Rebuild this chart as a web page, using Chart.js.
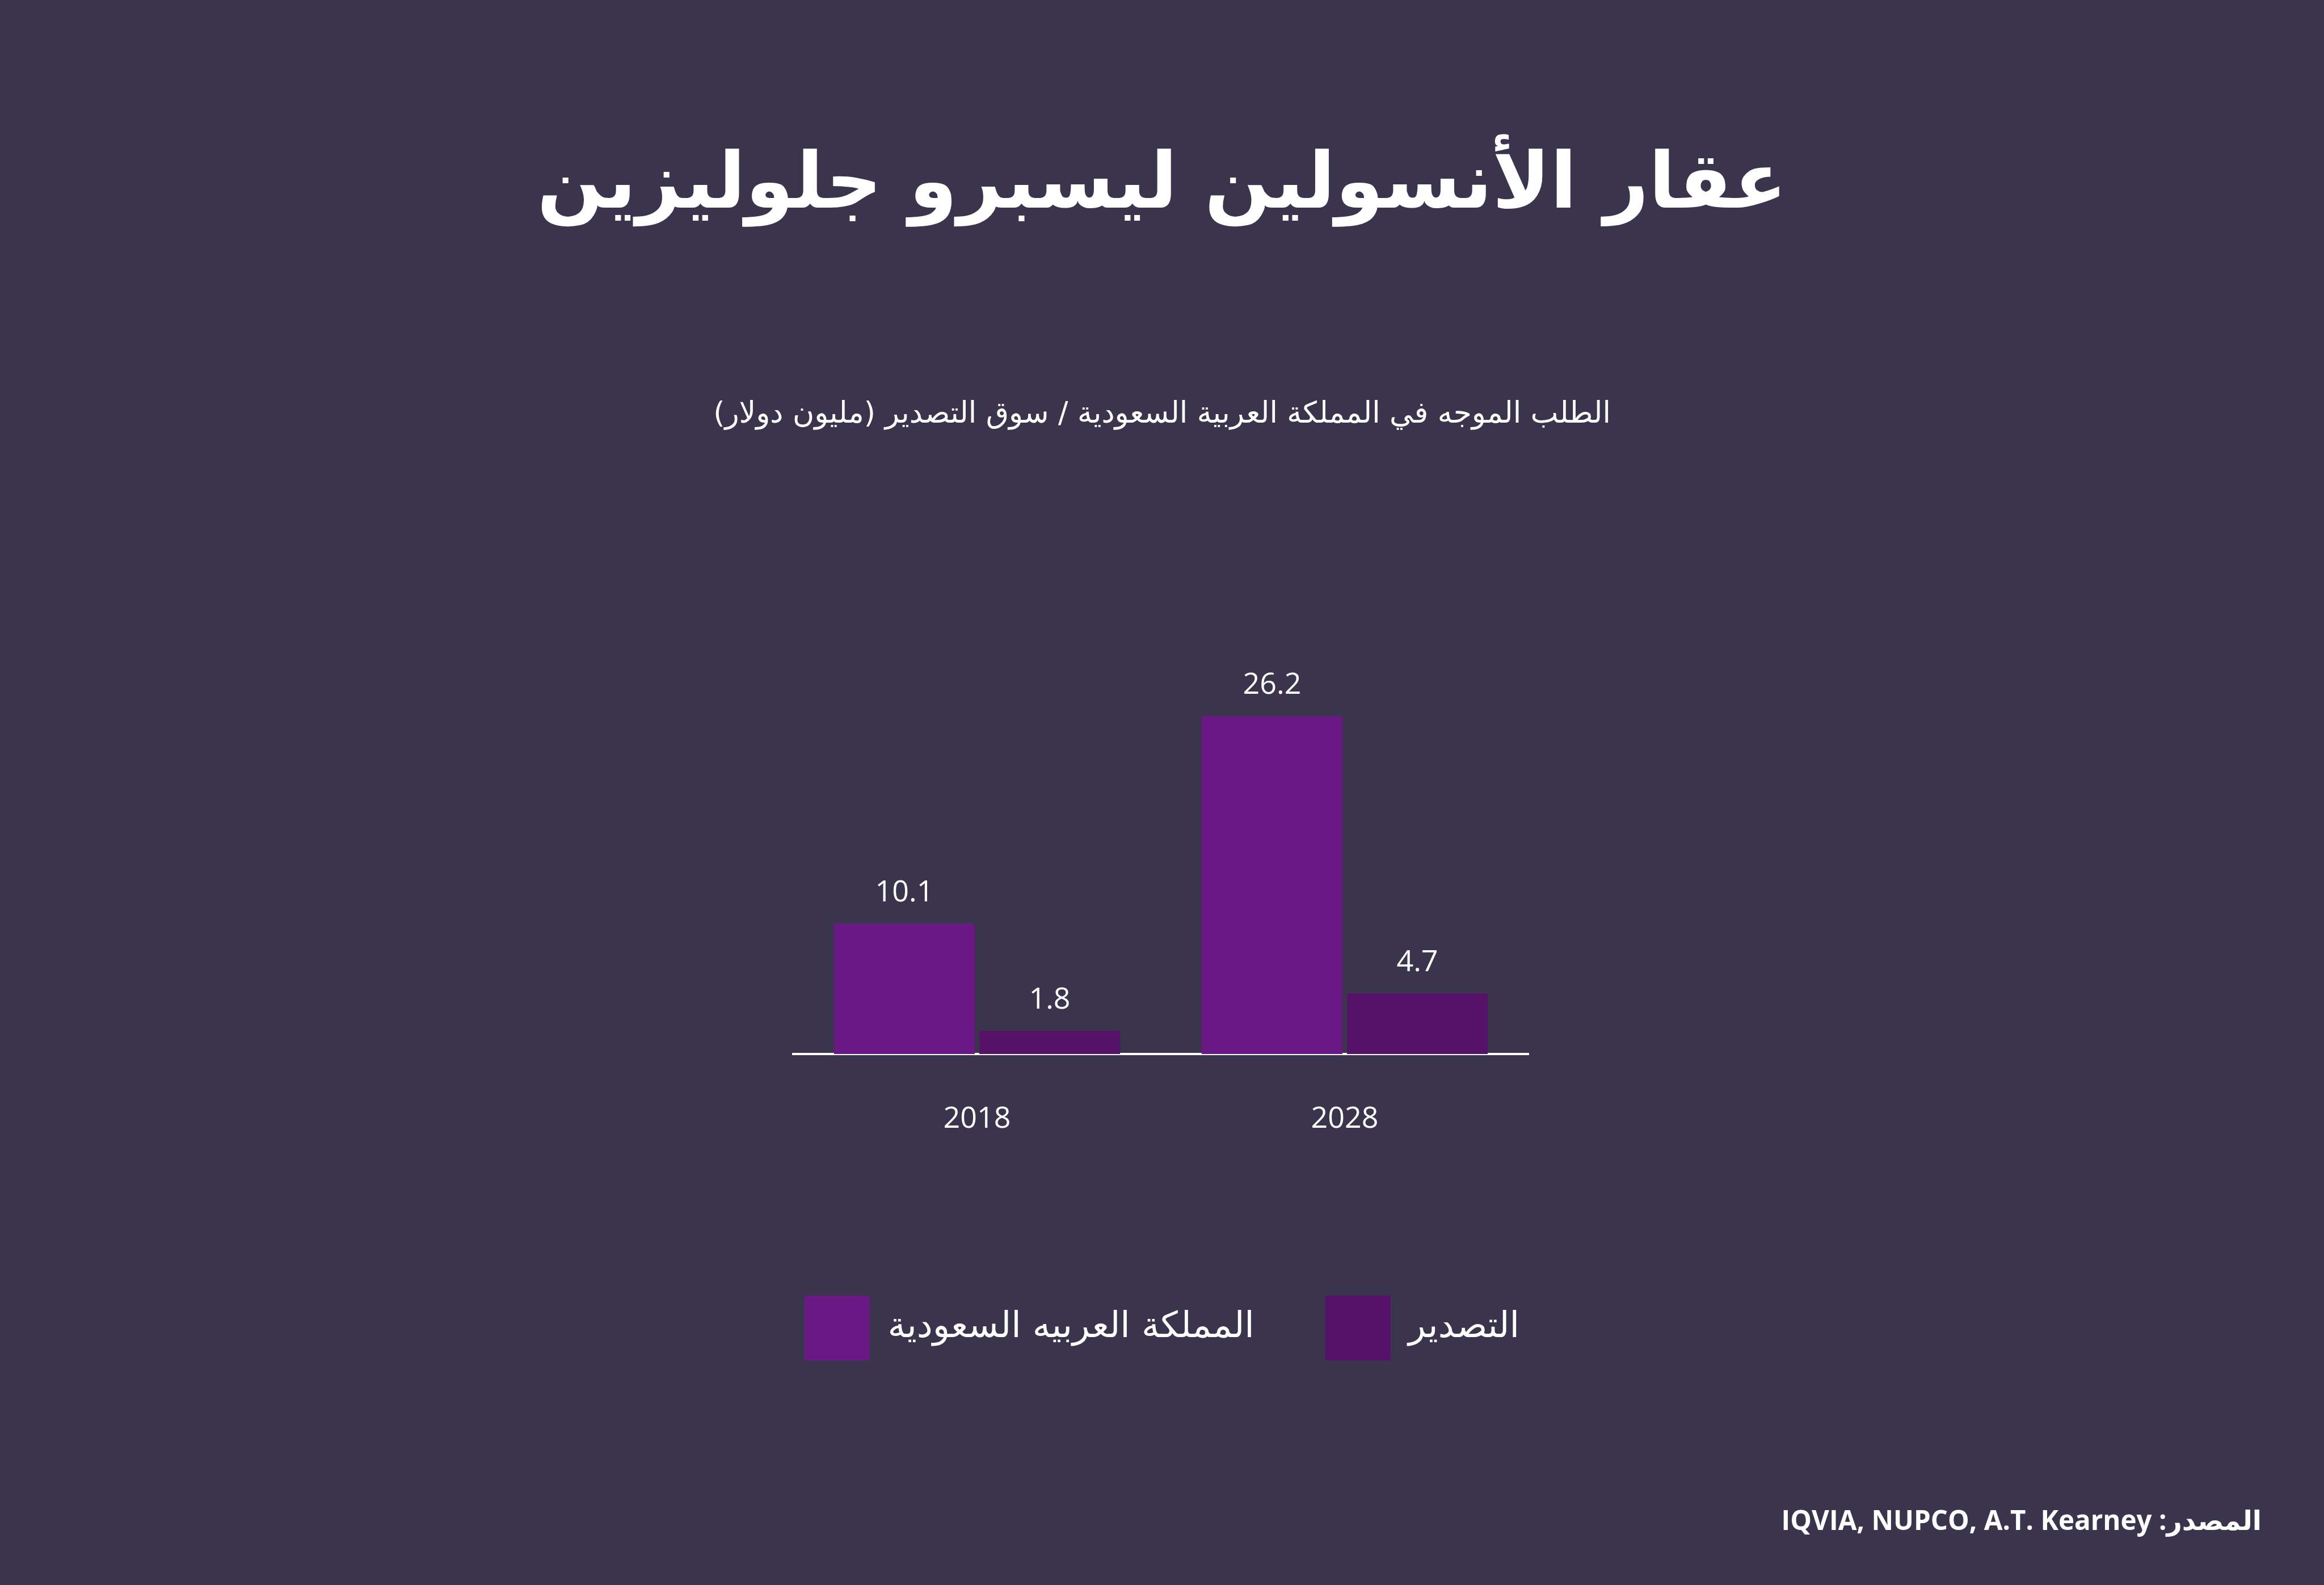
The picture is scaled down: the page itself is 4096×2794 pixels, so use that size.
<!DOCTYPE html>
<html lang="ar">
<head>
<meta charset="utf-8">
<script src="https://cdn.jsdelivr.net/npm/chart.js@4.4.1/dist/chart.umd.min.js"></script>
<style>
  html, body { margin: 0; padding: 0; background: #3a354c; width: 4096px; height: 2794px; overflow: hidden; }
  .txt { position: absolute; color: #fff; white-space: nowrap; line-height: 1; font-family: "DejaVu Sans", sans-serif; }
  #title { left: 0; width: 4096px; text-align: center; top: 250px; font-size: 137px; font-weight: bold; }
  #subtitle { left: 0; width: 4096px; text-align: center; top: 701px; font-size: 52px; }
  #source { right: 110px; top: 2655px; font-size: 47.5px; font-weight: bold; font-family: "Open Sans", "DejaVu Sans", sans-serif; }
  #chart-wrap { position: absolute; left: 0; top: 0; width: 4096px; height: 2794px; }
</style>
</head>
<body>
<div id="chart-wrap"><canvas id="insulin-chart"></canvas></div>
<div class="txt" id="title" dir="rtl">عقار الأنسولين ليسبرو جلوليزين</div>
<div class="txt" id="subtitle" dir="rtl">الطلب الموجه في المملكة العربية السعودية / سوق التصدير (مليون دولار)</div>
<div class="txt" id="source" dir="rtl">المصدر: IQVIA, NUPCO, A.T. Kearney</div>
<script>
// data
const years = ["2018", "2028"];
const saudiValues = [10.1, 26.2];
const exportValues = [1.8, 4.7];
const seriesNames = ["المملكة العربيه السعودية", "التصدير"];
const seriesColors = ["#6a1886", "#551268"];
const yMax = 30;

// value above each bar
const valueLabels = {
  id: "valueLabels",
  afterDatasetsDraw(chart) {
    const ctx = chart.ctx;
    ctx.save();
    ctx.fillStyle = "#ffffff";
    ctx.font = '52px "Open Sans"';
    ctx.textAlign = "center";
    ctx.textBaseline = "middle";
    chart.data.datasets.forEach((ds, i) => {
      chart.getDatasetMeta(i).data.forEach((bar, j) => {
        ctx.fillText(ds.data[j].toFixed(1), bar.x, bar.y - 54);
      });
    });
    ctx.restore();
  },
};

// invisible side axes, only there to hold the plot in the middle
const hidden = {
  ticks: { display: false },
  grid: { display: false, drawTicks: false },
  border: { display: false },
};

new Chart(document.getElementById("insulin-chart"), {
  type: "bar",
  data: {
    labels: years,
    datasets: [
      { label: seriesNames[0], data: saudiValues, backgroundColor: seriesColors[0], borderWidth: 0 },
      { label: seriesNames[1], data: exportValues, backgroundColor: seriesColors[1], borderWidth: 0 },
    ],
  },
  options: {
    responsive: true,
    maintainAspectRatio: false,
    animation: false,
    categoryPercentage: 0.79,
    barPercentage: 0.969,
    layout: { padding: { top: 1176, bottom: 386, left: 0, right: 0 } },
    scales: {
      x: {
        z: 1,
        grid: { display: false, drawTicks: false },
        border: { display: true, color: "#ffffff", width: 4 },
        ticks: { color: "#ffffff", padding: 84, font: { family: "Open Sans", size: 52 } },
        afterFit(scale) { scale.height = 301; },
      },
      y: {
        min: 0,
        max: yMax,
        ...hidden,
        afterFit(scale) { scale.width = 1398; },
      },
      yRight: {
        type: "linear",
        position: "right",
        ...hidden,
        afterFit(scale) { scale.width = 1402; },
      },
    },
    plugins: {
      legend: {
        position: "bottom",
        labels: {
          color: "#ffffff",
          boxWidth: 115,
          boxHeight: 114,
          padding: 125,
          font: { family: "DejaVu Sans", size: 63 },
        },
      },
      tooltip: { enabled: false },
    },
  },
  plugins: [valueLabels],
});
</script>
</body>
</html>
